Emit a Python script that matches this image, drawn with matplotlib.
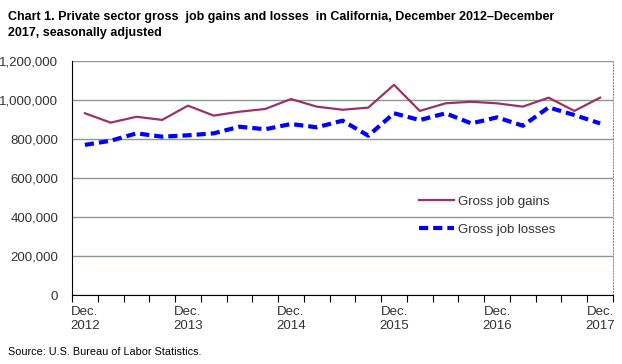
import matplotlib
matplotlib.use('Agg')
import matplotlib.pyplot as plt
from matplotlib.lines import Line2D

plt.rcParams['font.family'] = ['Liberation Sans', 'DejaVu Sans']

# данные: поквартально, декабрь 2012 - декабрь 2017
quarters = list(range(21))
gains = [932000, 884000, 914000, 898000, 971000, 920000, 940000, 954000, 1005000,
         966000, 950000, 961000, 1078000, 944000, 983000, 991000, 983000, 966000,
         1012000, 944000, 1012000]
losses = [770000, 791000, 829000, 812000, 819000, 829000, 863000, 850000, 877000,
          860000, 894000, 817000, 932000, 897000, 932000, 880000, 911000, 868000,
          962000, 923000, 880000]
x_labels = {0: 'Dec.\n2012', 4: 'Dec.\n2013', 8: 'Dec.\n2014', 12: 'Dec.\n2015',
            16: 'Dec.\n2016', 20: 'Dec.\n2017'}
y_ticks = [0, 200000, 400000, 600000, 800000, 1000000, 1200000]

fig = plt.figure(figsize=(6.22, 3.64), dpi=100)
ax = fig.add_axes([72 / 622, 1 - 295 / 364, (613 - 72) / 622, (295 - 61) / 364])

gains_color = '#993366'
losses_color = '#0000FF'
ax.plot(quarters, gains, color=gains_color, linewidth=1.6)
ax.plot(quarters, losses, color=losses_color, linewidth=3, dashes=(2.2, 1.2))

ax.set_xlim(-0.5, 20.5)
ax.set_ylim(0, 1200000)
ax.set_yticks(y_ticks)
ax.set_yticklabels([f'{v:,}' for v in y_ticks], fontsize=9.5, color='#333333')
ax.tick_params(axis='y', length=0, pad=10)

# деления между категориями, подписи по центру
ax.set_xticks([i - 0.5 for i in range(22)])
ax.set_xticklabels([])
ax.set_xticks(list(x_labels.keys()), minor=True)
ax.set_xticklabels(list(x_labels.values()), minor=True, fontsize=9.5, color='#333333')
ax.tick_params(axis='x', which='major', length=5, direction='out', color='black')
ax.tick_params(axis='x', which='minor', length=0, pad=8)

ax.grid(axis='y', color='#8c9a8c', linewidth=1)
ax.set_axisbelow(True)
ax.spines['top'].set_visible(False)
ax.spines['right'].set_color('#8c9a8c')
ax.spines['right'].set_linestyle(':')
ax.spines['left'].set_color('black')
ax.spines['bottom'].set_color('black')

handles = [Line2D([], [], color=gains_color, linewidth=1.6),
           Line2D([], [], color=losses_color, linewidth=3, dashes=(2.2, 1.2))]
ax.legend(handles, ['Gross job gains', 'Gross job losses'], loc='upper left',
          bbox_to_anchor=(0.62, 0.475), frameon=False, fontsize=9.5,
          handlelength=2.6, handletextpad=0.3, labelspacing=1.2,
          labelcolor='#333333')

fig.text(8 / 622, 1 - 11 / 364,
         'Chart 1. Private sector gross  job gains and losses  in California, December 2012\u2013December\n2017, seasonally adjusted',
         fontsize=9, fontweight='bold', va='top', ha='left', linespacing=1.45)
fig.text(8 / 622, 1 - 352 / 364, 'Source: U.S. Bureau of Labor Statistics.',
         fontsize=7.8, va='center', ha='left')

fig.savefig('out.png', dpi=100)
